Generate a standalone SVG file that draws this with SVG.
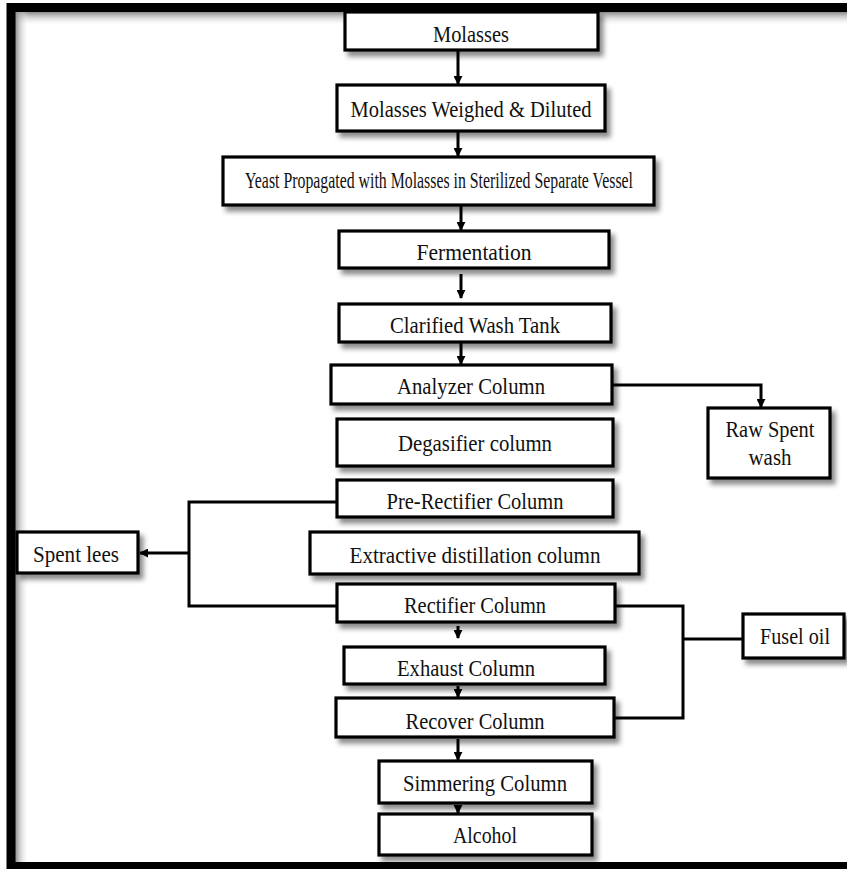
<svg xmlns="http://www.w3.org/2000/svg" width="847" height="869" viewBox="0 0 847 869">
<defs>
<filter id="sh" x="-10%" y="-30%" width="130%" height="180%">
<feDropShadow dx="4" dy="5" stdDeviation="2.5" flood-color="#000" flood-opacity="0.45"/>
</filter>
<linearGradient id="gt" x1="0" y1="0" x2="0" y2="1"><stop offset="0" stop-color="#8a8a8a"/><stop offset="1" stop-color="#fff" stop-opacity="0"/></linearGradient>
<linearGradient id="gl" x1="0" y1="0" x2="1" y2="0"><stop offset="0" stop-color="#8a8a8a"/><stop offset="1" stop-color="#fff" stop-opacity="0"/></linearGradient>
<marker id="ah" viewBox="0 0 10 10" refX="9" refY="5" markerWidth="3" markerHeight="3" orient="auto" markerUnits="strokeWidth">
<path d="M0,0 L10,5 L0,10 z" fill="#000"/>
</marker>
</defs>
<style>
.box{fill:#fff;stroke:#000;stroke-width:3.2;filter:url(#sh)}
.t{font-family:"Liberation Serif","Times New Roman",serif;font-size:23px;fill:#111;text-anchor:middle}
.c{fill:none;stroke:#000;stroke-width:3}
.a{fill:none;stroke:#000;stroke-width:3;marker-end:url(#ah)}
</style>
<rect width="847" height="869" fill="#fff"/>
<!-- frame inner shadow -->
<rect x="15" y="12" width="832" height="14" fill="url(#gt)"/>
<rect x="15" y="12" width="14" height="851" fill="url(#gl)"/>
<!-- frame -->
<path d="M860,7.5 L11,7.5 L11,866.5 L860,866.5" fill="none" stroke="#000" stroke-width="9"/>

<g id="connectors">
<line class="a" x1="458" y1="51" x2="458" y2="84"/>
<line class="a" x1="458" y1="132" x2="458" y2="156"/>
<line class="a" x1="461" y1="206" x2="461" y2="230"/>
<line class="a" x1="461" y1="274" x2="461" y2="298"/>
<line class="a" x1="461" y1="343" x2="461" y2="364"/>
<line class="a" x1="458" y1="626" x2="458" y2="638"/>
<line class="a" x1="458" y1="686" x2="458" y2="697"/>
<line class="a" x1="458" y1="739" x2="458" y2="760"/>
<line class="a" x1="458" y1="805" x2="458" y2="813"/>
<polyline class="a" points="613,385 761,385 761,407"/>
<polyline class="c" points="337,502 189,502 189,606 337,606"/>
<line class="a" x1="189" y1="553" x2="140" y2="553"/>
<polyline class="c" points="615,606 683,606 683,718 614,718"/>
<line class="c" x1="683" y1="639" x2="743" y2="639"/>
</g>

<g id="n-molasses"><rect class="box" x="345" y="12" width="253" height="38"/><text class="t" x="471" y="42" textLength="76" lengthAdjust="spacingAndGlyphs">Molasses</text></g>
<g id="n-weighed"><rect class="box" x="337" y="85" width="268" height="46"/><text class="t" x="471" y="117" textLength="241" lengthAdjust="spacingAndGlyphs">Molasses Weighed &amp; Diluted</text></g>
<g id="n-yeast"><rect class="box" x="223" y="157" width="431" height="48"/><text class="t" x="439" y="188" textLength="388" lengthAdjust="spacingAndGlyphs">Yeast Propagated with Molasses in Sterilized Separate Vessel</text></g>
<g id="n-fermentation"><rect class="box" x="339" y="231" width="270" height="37"/><text class="t" x="474" y="260" textLength="115" lengthAdjust="spacingAndGlyphs">Fermentation</text></g>
<g id="n-clarified"><rect class="box" x="339" y="304" width="272" height="38"/><text class="t" x="475" y="333" textLength="170" lengthAdjust="spacingAndGlyphs">Clarified Wash Tank</text></g>
<g id="n-analyzer"><rect class="box" x="331" y="365" width="281" height="39"/><text class="t" x="471" y="394" textLength="148" lengthAdjust="spacingAndGlyphs">Analyzer Column</text></g>
<g id="n-degasifier"><rect class="box" x="337" y="419" width="276" height="47"/><text class="t" x="475" y="451" textLength="154" lengthAdjust="spacingAndGlyphs">Degasifier column</text></g>
<g id="n-prerectifier"><rect class="box" x="337" y="480" width="276" height="37"/><text class="t" x="475" y="509" textLength="177" lengthAdjust="spacingAndGlyphs">Pre-Rectifier Column</text></g>
<g id="n-extractive"><rect class="box" x="310" y="532" width="329" height="42"/><text class="t" x="475" y="563" textLength="251" lengthAdjust="spacingAndGlyphs">Extractive distillation column</text></g>
<g id="n-rectifier"><rect class="box" x="337" y="584" width="278" height="38"/><text class="t" x="475" y="613" textLength="142" lengthAdjust="spacingAndGlyphs">Rectifier Column</text></g>
<g id="n-exhaust"><rect class="box" x="344" y="647" width="261" height="37"/><text class="t" x="466" y="676" textLength="138" lengthAdjust="spacingAndGlyphs">Exhaust Column</text></g>
<g id="n-recover"><rect class="box" x="336" y="698" width="278" height="39"/><text class="t" x="475" y="729" textLength="139" lengthAdjust="spacingAndGlyphs">Recover Column</text></g>
<g id="n-simmering"><rect class="box" x="379" y="761" width="213" height="42"/><text class="t" x="485" y="791" textLength="164" lengthAdjust="spacingAndGlyphs">Simmering Column</text></g>
<g id="n-alcohol"><rect class="box" x="379" y="814" width="213" height="41"/><text class="t" x="485" y="843" textLength="64" lengthAdjust="spacingAndGlyphs">Alcohol</text></g>
<g id="n-rawspent"><rect class="box" x="708" y="408" width="122" height="70"/><text class="t" x="770" y="437" textLength="89" lengthAdjust="spacingAndGlyphs">Raw Spent</text><text class="t" x="770" y="465" textLength="43" lengthAdjust="spacingAndGlyphs">wash</text></g>
<g id="n-spentlees"><rect class="box" x="17" y="532" width="121" height="41"/><text class="t" x="76" y="562" textLength="86" lengthAdjust="spacingAndGlyphs">Spent lees</text></g>
<g id="n-fuseloil"><rect class="box" x="743" y="614" width="101" height="44"/><text class="t" x="795" y="644" textLength="70" lengthAdjust="spacingAndGlyphs">Fusel oil</text></g>
</svg>
